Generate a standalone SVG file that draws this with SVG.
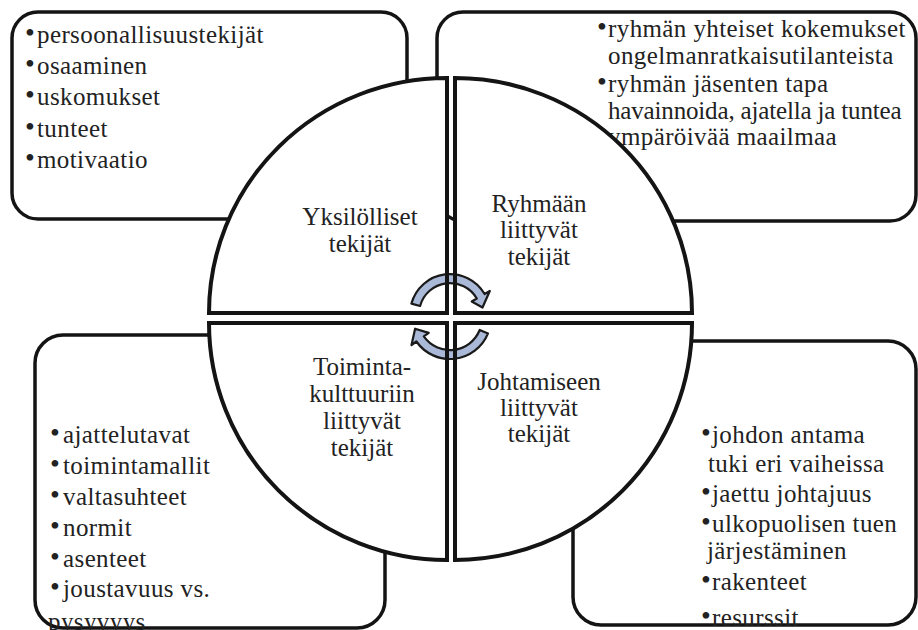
<svg xmlns="http://www.w3.org/2000/svg" width="918" height="630" viewBox="0 0 918 630">
  <style>
    .box { fill: #ffffff; stroke: #141414; stroke-width: 3.5; }
    .quad { fill: #ffffff; stroke: #141414; stroke-width: 4; stroke-linejoin: miter; }
    .edge { fill: none; stroke: #141414; stroke-width: 4; }
    .t { font-family: 'Liberation Serif', 'DejaVu Serif', serif; font-size: 25px; fill: #222222; letter-spacing: 0.4px; }
    .lbl { font-family: 'Liberation Serif', 'DejaVu Serif', serif; font-size: 25px; fill: #222222; text-anchor: middle; }
    .b { font-size: 28px; letter-spacing: 0; }
    .arrow { fill: #a9b9d7; stroke: #1a1a1a; stroke-width: 2.2; stroke-linejoin: round; }
  </style>

  <!-- outer boxes with their bullet lists -->
  <g id="box-individual">
    <rect class="box" x="12" y="12" width="395" height="207" rx="26"/>
    <text class="t">
      <tspan class="b" x="25" y="42">•</tspan><tspan x="37" y="43">persoonallisuustekijät</tspan>
      <tspan class="b" x="25" y="73">•</tspan><tspan x="37" y="74">osaaminen</tspan>
      <tspan class="b" x="25" y="104">•</tspan><tspan x="37" y="105">uskomukset</tspan>
      <tspan class="b" x="25" y="136">•</tspan><tspan x="37" y="137">tunteet</tspan>
      <tspan class="b" x="25" y="167">•</tspan><tspan x="37" y="168">motivaatio</tspan>
    </text>
  </g>

  <g id="box-group">
    <rect class="box" x="437" y="12" width="479" height="209" rx="26"/>
    <text class="t">
      <tspan class="b" x="597" y="36">•</tspan><tspan x="608" y="37">ryhmän yhteiset kokemukset</tspan>
      <tspan x="608" y="64">ongelmanratkaisutilanteista</tspan>
      <tspan class="b" x="597" y="91">•</tspan><tspan x="608" y="92">ryhmän jäsenten tapa</tspan>
      <tspan x="608" y="119" textLength="294" lengthAdjust="spacing">havainnoida, ajatella ja tuntea</tspan>
      <tspan x="608" y="145">ympäröivää maailmaa</tspan>
    </text>
  </g>

  <g id="box-culture">
    <rect class="box" x="35" y="335" width="350" height="293" rx="28"/>
    <text class="t">
      <tspan class="b" x="50" y="442">•</tspan><tspan x="63" y="443">ajattelutavat</tspan>
      <tspan class="b" x="50" y="473">•</tspan><tspan x="63" y="474">toimintamallit</tspan>
      <tspan class="b" x="50" y="504">•</tspan><tspan x="63" y="505">valtasuhteet</tspan>
      <tspan class="b" x="50" y="535">•</tspan><tspan x="63" y="536">normit</tspan>
      <tspan class="b" x="50" y="566">•</tspan><tspan x="63" y="567">asenteet</tspan>
      <tspan class="b" x="50" y="596">•</tspan><tspan x="63" y="597">joustavuus vs.</tspan>
      <tspan x="48" y="630">pysyvyys</tspan>
    </text>
  </g>

  <g id="box-leadership">
    <rect class="box" x="573" y="341" width="343" height="284" rx="28"/>
    <text class="t">
      <tspan class="b" x="701" y="442">•</tspan><tspan x="712" y="443">johdon antama</tspan>
      <tspan x="708" y="472">tuki eri vaiheissa</tspan>
      <tspan class="b" x="701" y="501">•</tspan><tspan x="712" y="502">jaettu johtajuus</tspan>
      <tspan class="b" x="701" y="531">•</tspan><tspan x="712" y="532">ulkopuolisen tuen</tspan>
      <tspan x="707" y="559">järjestäminen</tspan>
      <tspan class="b" x="701" y="589">•</tspan><tspan x="712" y="590">rakenteet</tspan>
      <tspan class="b" x="701" y="625">•</tspan><tspan x="712" y="626">resurssit</tspan>
    </text>
  </g>

  <!-- four quarter-circle segments -->
  <g id="quad-individual">
    <path class="quad" d="M447,313 L209,313 A238,235 0 0 1 447,78 Z"/>
    <text class="lbl"><tspan x="360" y="225">Yksilölliset</tspan><tspan x="360" y="252">tekijät</tspan></text>
  </g>
  <g id="quad-group">
    <path class="quad" d="M455,313 L455,78 A237,235 0 0 1 692,313 Z"/>
    <text class="lbl"><tspan x="539" y="212">Ryhmään</tspan><tspan x="539" y="238">liittyvät</tspan><tspan x="539" y="265">tekijät</tspan></text>
  </g>
  <g id="quad-culture">
    <path class="quad" d="M447,323 L447,560 A238,237 0 0 1 209,323 Z"/>
    <text class="lbl"><tspan x="362" y="375">Toiminta-</tspan><tspan x="362" y="402">kulttuuriin</tspan><tspan x="362" y="429">liittyvät</tspan><tspan x="362" y="456">tekijät</tspan></text>
  </g>
  <g id="quad-leadership">
    <path class="quad" d="M455,323 L692,323 A237,237 0 0 1 455,560 Z"/>
    <text class="lbl"><tspan x="539" y="390">Johtamiseen</tspan><tspan x="539" y="416">liittyvät</tspan><tspan x="539" y="442">tekijät</tspan></text>
  </g>

  <!-- circular arrows in the middle -->
  <g id="connectors">
    <path class="arrow" d="M411.4,303.6 A40,40 0 0 1 484.6,294 L489.8,291 L482.5,307.5 L471.7,301.5 L476.8,298.5 A31,31 0 0 0 420.1,306 Z"/>
    <path class="arrow" d="M488,333.4 A41,41 0 0 1 416.4,341.5 L411.5,345 L415.1,328.7 L428.7,332.9 L423.8,336.4 A32,32 0 0 0 479.7,330 Z"/>
    <!-- segment edges run over the arrows -->
    <path class="edge" d="M447,266 V313 M455,266 V313 M447,323 V366 M455,323 V366"/>
  </g>
</svg>
